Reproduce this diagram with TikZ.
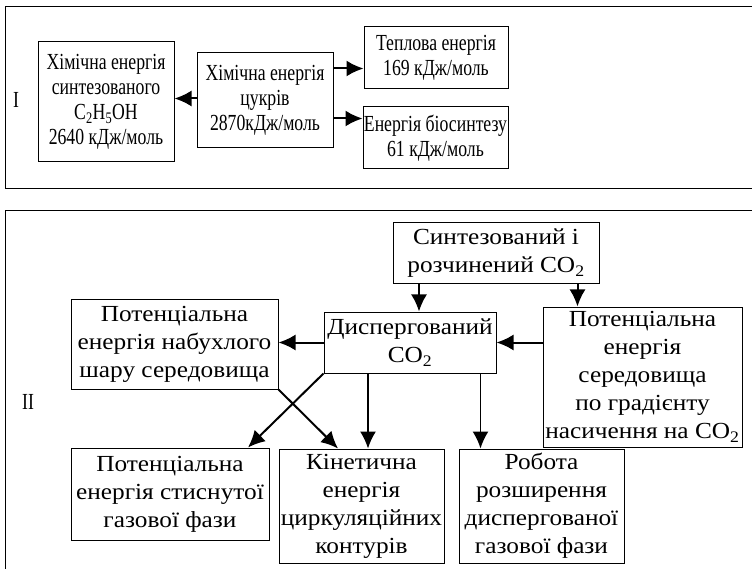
\documentclass[tikz,border=0pt]{standalone}
\usepackage{fontspec}
\setmainfont{Liberation Serif}
\newfontfamily\narrowfont[FakeStretch=0.77]{Liberation Serif}
\newfontfamily\widefont[FakeStretch=1.1]{Liberation Serif}
\usetikzlibrary{arrows.meta}

\begin{document}
\begin{tikzpicture}[x=1pt, y=-1pt, >={Latex[length=17pt,width=16pt]},
    box/.style={draw, line width=1pt, align=center, inner sep=0pt},
    topbox/.style={box, font=\fontsize{23}{25}\narrowfont},
    lowbox/.style={box, font=\fontsize{23}{28}\widefont},
    flow/.style={->, line width=2pt}]
    \clip (0,0) rectangle (752,569);

    % Рамки панелей
    \draw[line width=1pt] (5,7) rectangle (770,189);
    \draw[line width=1pt] (5,211) rectangle (770,590);
    \node[font=\fontsize{23}{25}\narrowfont] (lblI) at (16,100) {I};
    \node[font=\fontsize{23}{25}\narrowfont] (lblII) at (28,402) {II};

    % Панель I
    \node[topbox, minimum width=136pt, minimum height=120pt] (chem) at (106,102)
        {Хімічна енергія\\синтезованого\\C\textsubscript{2}H\textsubscript{5}OH\\2640 кДж/моль};
    \node[topbox, minimum width=136pt, minimum height=95pt] (sugar) at (265,100.5)
        {Хімічна енергія\\цукрів\\2870кДж/моль};
    \node[topbox, minimum width=144pt, minimum height=62pt] (heat) at (436,58)
        {Теплова енергія\\169 кДж/моль};
    \node[topbox, minimum width=145pt, minimum height=62pt] (bio) at (435.5,138)
        {Енергія біосинтезу\\61 кДж/моль};

    \draw[flow] ([yshift=2pt]sugar.west) -- ([yshift=2pt]sugar.west -| chem.east);
    \coordinate (s1) at ([yshift=-16pt]sugar.north east);
    \coordinate (s2) at ([yshift=30pt]sugar.south east);
    \draw[flow] (s1) -- (s1 -| heat.west);
    \draw[flow] (s2) -- (s2 -| bio.west);

    % Панель II
    \node[lowbox, minimum width=206pt, minimum height=61pt] (synth) at (496,253.5)
        {Синтезований і\\розчинений CO\textsubscript{2}};
    \node[lowbox, minimum width=172pt, minimum height=61pt] (disp) at (410,342.5)
        {Диспергований\\CO\textsubscript{2}};
    \node[lowbox, minimum width=199pt, minimum height=140pt] (grad) at (642.5,377)
        {Потенціальна\\енергія\\середовища\\по градієнту\\насичення на CO\textsubscript{2}};
    \node[lowbox, minimum width=207pt, minimum height=90pt] (swell) at (174.5,344)
        {Потенціальна\\енергія набухлого\\шару середовища};
    \node[lowbox, minimum width=198pt, minimum height=92pt] (compr) at (170,494)
        {Потенціальна\\енергія стиснутої\\газової фази};
    \node[lowbox, minimum width=165pt, minimum height=114pt] (kin) at (361.5,506)
        {Кінетична\\енергія\\циркуляційних\\контурів};
    \node[lowbox, minimum width=165pt, minimum height=114pt] (work) at (541.5,506)
        {Робота\\розширення\\диспергованої\\газової фази};

    \coordinate (d1) at ([xshift=9pt]disp.north);
    \coordinate (g1) at ([xshift=-22pt]synth.south east);
    \draw[flow] (synth.south -| d1) -- (d1);
    \draw[flow] (g1) -- (g1 |- grad.north);
    \draw[flow] (grad.west |- disp.east) -- (disp.east);
    \draw[flow] (disp.west) -- (disp.west -| swell.east);
    \draw[flow] (disp.south west) -- ([xshift=78pt]compr.north);
    \draw[flow] (swell.south east) -- ([xshift=-23.5pt]kin.north);
    \coordinate (k1) at ([xshift=-42pt]disp.south);
    \coordinate (w1) at ([xshift=-16pt]disp.south east);
    \draw[flow, line width=1.6pt] (k1) -- (k1 |- kin.north);
    \draw[flow, line width=1.6pt] (w1) -- (w1 |- work.north);
\end{tikzpicture}
\end{document}
